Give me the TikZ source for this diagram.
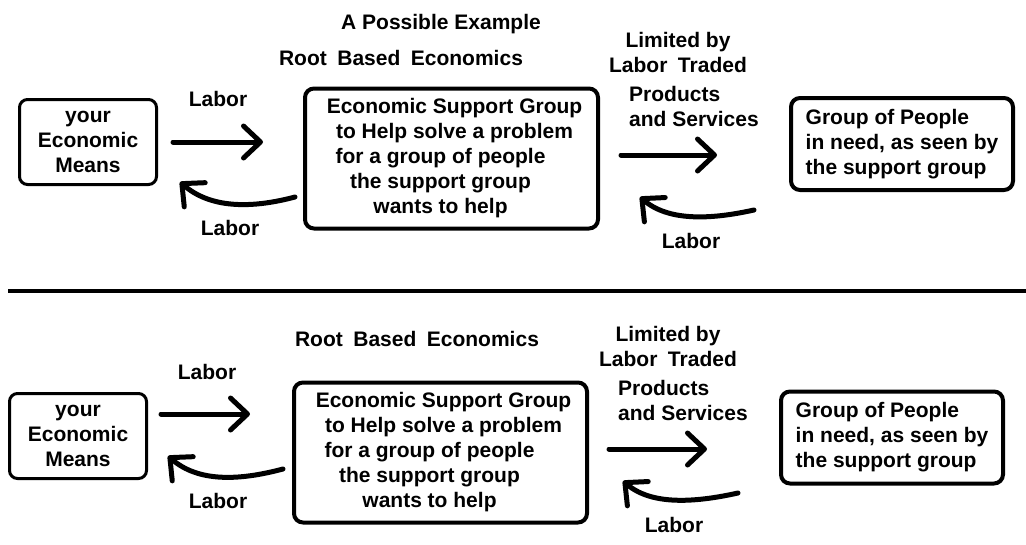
\documentclass[tikz,border=0pt]{standalone}
\usepackage{fontspec}
\setmainfont{Liberation Sans}
\usetikzlibrary{arrows.meta, positioning}
\newcommand{\wgap}{\hspace{0.5em}}
\newcommand{\pushleft}{\kern22pt}
\newcommand{\pushright}{\kern6pt}

\begin{document}
\begin{tikzpicture}[
  x=1pt, y=-1pt,
  every node/.style={font=\fontsize{21}{25}\selectfont\bfseries, inner sep=0pt},
  meansbox/.style={
    rectangle, rounded corners=8pt,
    draw, line width=3pt,
    minimum width=137pt, minimum height=85pt,
    align=center
  },
  supportbox/.style={
    rectangle, rounded corners=9pt,
    draw, line width=4pt,
    minimum width=293pt, minimum height=140pt,
    align=center
  },
  peoplebox/.style={
    rectangle, rounded corners=9pt,
    draw, line width=4pt,
    minimum width=222pt, minimum height=92pt,
    align=left
  },
  note/.style={align=center},
  items/.style={align=left, anchor=west},
  flow/.style={
    line width=5pt, line cap=round,
    -{Straight Barb[length=17pt, width=32pt, line cap=round, line join=round]}
  }
]
  \useasboundingbox (0,0) rectangle (1026,544);

  % --- Upper example ---
  \node (title1) at (441,24) {A Possible Example};
  \node (root1)  at (401,58) {Root\wgap Based\wgap Economics};

  \node[meansbox]   (means1)   at (88,142)    {your\\Economic\\Means};
  \node[supportbox] (support1) at (451.5,158.5)
    {\pushright Economic Support Group\\\pushright to Help solve a problem\\for a group of people\pushleft\\
     the support group\pushleft\\wants to help\pushleft};
  \node[peoplebox]  (people1)  at (902,144)
    {Group of People\\in need, as seen by\\the support group};

  \node[note]  (limited1)  at (678,52)  {Limited by\\Labor\wgap Traded};
  \node[items] (products1) at (629,106) {Products\\and Services};

  \coordinate (in1a)  at (173,142);  \coordinate (in1b)  at (263,142);
  \coordinate (back1a) at (295,197); \coordinate (back1b) at (180,182);
  \coordinate (out1a) at (621,155);  \coordinate (out1b) at (717,155);
  \coordinate (ret1a) at (754,210);  \coordinate (ret1b) at (640,197);

  \draw[flow] (in1a) -- (in1b);
  \draw[flow] (back1a) .. controls +(-45,12) and +(30,26) .. (back1b);
  \draw[flow] (out1a) -- (out1b);
  \draw[flow] (ret1a) .. controls +(-45,10) and +(28,24) .. (ret1b);

  \node (labor1a) at (218,99)  {Labor};
  \node (labor1b) at (230,228) {Labor};
  \node (labor1c) at (691,241) {Labor};

  % --- Divider ---
  \coordinate (rulel) at (8,291);
  \coordinate (ruler) at (1026,291);
  \draw[line width=4pt] (rulel) -- (ruler);

  % --- Lower example ---
  \node (root2) at (417,339) {Root\wgap Based\wgap Economics};

  \node[meansbox]   (means2)   at (78,436)    {your\\Economic\\Means};
  \node[supportbox] (support2) at (440.5,452.5)
    {\pushright Economic Support Group\\\pushright to Help solve a problem\\for a group of people\pushleft\\
     the support group\pushleft\\wants to help\pushleft};
  \node[peoplebox]  (people2)  at (892,437.5)
    {Group of People\\in need, as seen by\\the support group};

  \node[note]  (limited2)  at (668,346) {Limited by\\Labor\wgap Traded};
  \node[items] (products2) at (618,400) {Products\\and Services};

  \coordinate (in2a)  at (161,414);  \coordinate (in2b)  at (250,414);
  \coordinate (back2a) at (283,469); \coordinate (back2b) at (168,456);
  \coordinate (out2a) at (609,449);  \coordinate (out2b) at (707,449);
  \coordinate (ret2a) at (738,493);  \coordinate (ret2b) at (623,481);

  \draw[flow] (in2a) -- (in2b);
  \draw[flow] (back2a) .. controls +(-45,12) and +(30,26) .. (back2b);
  \draw[flow] (out2a) -- (out2b);
  \draw[flow] (ret2a) .. controls +(-45,10) and +(28,24) .. (ret2b);

  \node (labor2a) at (207,372) {Labor};
  \node (labor2b) at (218,501) {Labor};
  \node (labor2c) at (674,525) {Labor};
\end{tikzpicture}
\end{document}
